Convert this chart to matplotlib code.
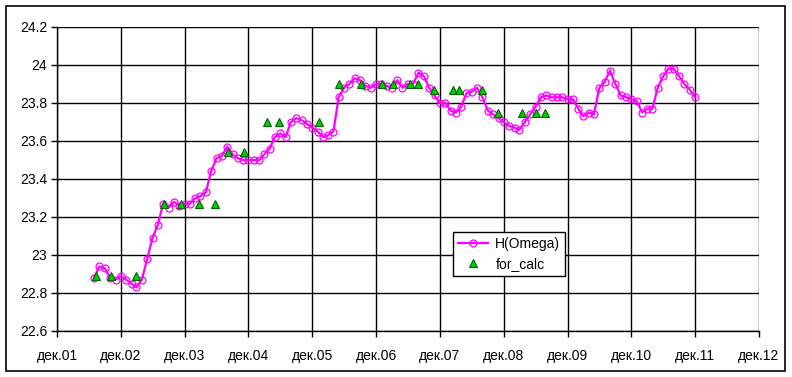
import numpy as np
import pandas as pd
import matplotlib
matplotlib.use("Agg")
import matplotlib.pyplot as plt
from matplotlib.patches import Rectangle

plt.rcParams['font.family'] = ['Liberation Sans', 'DejaVu Sans']

# ---------------- Dados ----------------
# H(Omega), valores mensais de jul/2002 a dez/2011
h_inicio = "2002-07-01"
h_omega = [
    22.88, 22.94, 22.93, 22.88, 22.87, 22.89, 22.87, 22.85, 22.83, 22.87,
    22.98, 23.09, 23.16, 23.27, 23.25, 23.28, 23.26, 23.27, 23.27, 23.30,
    23.31, 23.33, 23.44, 23.51, 23.52, 23.57, 23.53, 23.51, 23.50, 23.50,
    23.50, 23.50, 23.53, 23.56, 23.62, 23.64, 23.62, 23.70, 23.72, 23.71,
    23.69, 23.67, 23.65, 23.62, 23.63, 23.65, 23.83, 23.88, 23.90, 23.93,
    23.92, 23.89, 23.88, 23.90, 23.90, 23.89, 23.88, 23.92, 23.88, 23.90,
    23.90, 23.96, 23.94, 23.88, 23.84, 23.80, 23.80, 23.76, 23.75, 23.78,
    23.85, 23.86, 23.88, 23.83, 23.76, 23.74, 23.72, 23.70, 23.68, 23.67,
    23.66, 23.70, 23.74, 23.78, 23.83, 23.84, 23.83, 23.83, 23.83, 23.82,
    23.82, 23.77, 23.73, 23.75, 23.74, 23.88, 23.91, 23.97, 23.90, 23.84,
    23.83, 23.82, 23.81, 23.75, 23.77, 23.77, 23.88, 23.94, 23.98, 23.98,
    23.94, 23.90, 23.87, 23.83,
]

# for_calc
calc_datas = [
    "2002-07-10", "2002-10-06", "2003-02-25", "2003-08-04", "2003-11-10",
    "2004-02-22", "2004-05-22", "2004-08-04", "2004-11-07", "2005-03-16",
    "2005-05-22", "2006-01-07", "2006-05-01", "2006-09-04", "2007-01-04",
    "2007-03-07", "2007-06-16", "2007-07-28", "2007-10-28", "2008-02-13",
    "2008-03-19", "2008-07-28", "2008-10-28", "2009-03-13", "2009-06-01",
    "2009-07-28",
]
calc_valores = [
    22.89, 22.89, 22.89, 23.27, 23.27,
    23.27, 23.27, 23.54, 23.54, 23.70,
    23.70, 23.70, 23.90, 23.90, 23.90,
    23.90, 23.90, 23.90, 23.87, 23.87,
    23.87, 23.87, 23.75, 23.75, 23.75,
    23.75,
]

rotulos_x = ["дек.%02d" % a for a in range(1, 13)]
ticks_x = pd.date_range("2001-12-01", periods=12, freq="12MS")
ticks_y = np.arange(22.6, 24.21, 0.2)

h_datas = pd.date_range(h_inicio, periods=len(h_omega), freq="MS")

# ---------------- Grafico ----------------
fig = plt.figure(figsize=(7.92, 3.77), dpi=100)
ax = fig.add_axes([57/792, 1 - 331/377, 702/792, 304/377])

ax.plot(h_datas, h_omega, color="#FF00FF", lw=1.6, marker="o", ms=5,
        mfc="none", mec="#FF00FF", mew=0.9, label="H(Omega)", zorder=3)
ax.plot(pd.to_datetime(calc_datas), calc_valores, ls="none", marker="^", ms=6,
        mfc="#00CC00", mec="#006600", mew=0.8, label="for_calc", zorder=4)

ax.set_xlim(ticks_x[0], ticks_x[-1])
ax.set_ylim(22.6, 24.2)
ax.set_xticks(ticks_x)
ax.set_xticklabels(rotulos_x)
ax.set_yticks(ticks_y)
ax.set_yticklabels(["%.1f" % v if abs(v - round(v)) > 0.01 else "%d" % round(v) for v in ticks_y])
ax.tick_params(direction="out", length=4, width=1, labelsize=10, colors="black", pad=3)
ax.tick_params(axis="x", pad=9)

ax.grid(True, color="black", lw=1, zorder=1)
for lado in ["top", "right"]:
    ax.spines[lado].set_visible(False)
for lado in ["left", "bottom"]:
    ax.spines[lado].set_linewidth(1)

leg = ax.legend(loc="upper left", bbox_to_anchor=(396/702, 99/304), fancybox=False,
                frameon=True, edgecolor="black", prop={"size": 10},
                borderpad=0.35, handlelength=2.2, handletextpad=0.5,
                labelspacing=0.45, borderaxespad=0)
leg.get_frame().set_linewidth(1)
leg.get_frame().set_alpha(1)

# moldura externa
fig.patches.append(Rectangle((6/792, 6/377), 779/792, 365/377, transform=fig.transFigure,
                             fill=False, edgecolor="black", lw=1.2))

fig.savefig("out.png", dpi=100)
